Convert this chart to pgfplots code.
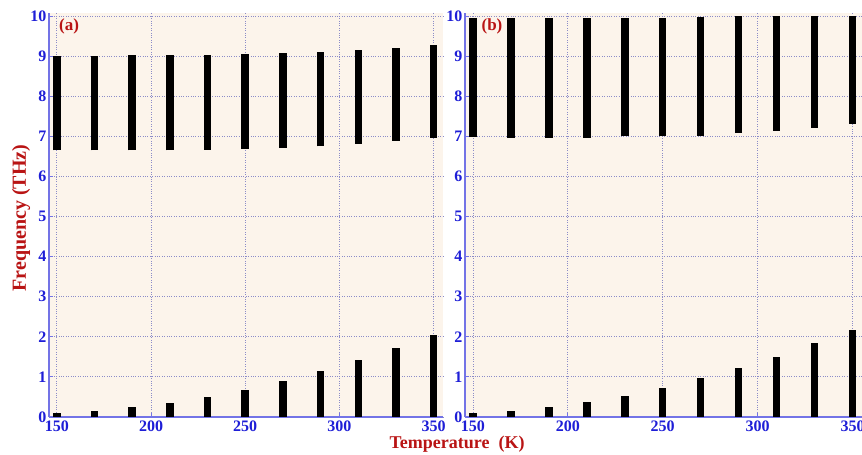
\documentclass[border=0pt]{standalone}
\usepackage{pgfplots}
\pgfplotsset{compat=1.18}
\usepackage{pgfplotstable}
\usepackage{fontspec}
\setmainfont{Liberation Serif}
\definecolor{bg}{RGB}{252,244,235}
\definecolor{tickblue}{RGB}{30,30,215}
\definecolor{axblue}{RGB}{115,115,230}
\definecolor{lblred}{RGB}{185,20,20}
\definecolor{gridc}{RGB}{140,140,200}

\pgfplotstableread{
T lo hi
150 6.65 9.01
170 6.65 9.01
190 6.65 9.04
210 6.65 9.03
230 6.67 9.03
250 6.68 9.05
270 6.71 9.07
290 6.75 9.10
310 6.82 9.14
330 6.89 9.20
350 6.96 9.28
}\aTop
\pgfplotstableread{
T lo hi
150 0 0.09
170 0 0.16
190 0 0.24
210 0 0.35
230 0 0.49
250 0 0.67
270 0 0.91
290 0 1.15
310 0 1.43
330 0 1.73
350 0 2.04
}\aBot
\pgfplotstableread{
T lo hi
150 6.98 9.94
170 6.97 9.94
190 6.97 9.94
210 6.97 9.94
230 7.00 9.96
250 7.00 9.96
270 7.02 9.98
290 7.08 10.00
310 7.14 10.00
330 7.21 10.00
350 7.31 10.00
}\bTop
\pgfplotstableread{
T lo hi
150 0 0.09
170 0 0.16
190 0 0.26
210 0 0.38
230 0 0.53
250 0 0.72
270 0 0.98
290 0 1.23
310 0 1.50
330 0 1.85
350 0 2.18
}\bBot

\pgfplotsset{panel/.style={
  scale only axis, height=404.2pt,
  xmin=145.8, xmax=355, ymin=0, ymax=10.08,
  axis x line*=bottom, axis y line*=left,
  axis line style={axblue, line width=1.3pt, -},
  axis background/.style={fill=bg},
  xtick={150,200,250,300,350}, ytick={0,1,...,10},
  xmajorgrids, ymajorgrids,
  grid style={gridc, dotted, line width=0.9pt},
  tick style={axblue, line width=1pt}, major tick length=4pt, tick align=inside,
  ticklabel style={font=\fontsize{16}{16}\selectfont\bfseries, text=tickblue},
  /pgf/number format/assume math mode=true,
  /pgf/number format/1000 sep={},
  yticklabel style={xshift=1pt},
  clip=false,
  },
  bars/.style={draw=none, mark=none,
    error bars/.cd, y dir=plus, y explicit, error mark=none,
    error bar style={draw=black, line width=7.5pt, line cap=butt}},
}

\begin{document}
\begin{tikzpicture}
\path[use as bounding box, fill=white] (0,0) rectangle (862pt,455pt);
\begin{axis}[panel, at={(49pt,38pt)}, anchor=south west, width=394pt]
\addplot[bars] table[x=T, y=lo, y error expr=\thisrow{hi}-\thisrow{lo}] {\aTop};
\addplot[bars] table[x=T, y=lo, y error expr=\thisrow{hi}-\thisrow{lo}] {\aBot};
\end{axis}
\begin{axis}[panel, at={(465pt,38pt)}, anchor=south west, width=397pt]
\addplot[bars] table[x=T, y=lo, y error expr=\thisrow{hi}-\thisrow{lo}] {\bTop};
\addplot[bars] table[x=T, y=lo, y error expr=\thisrow{hi}-\thisrow{lo}] {\bBot};
\end{axis}
\node[rotate=90, text=lblred, font=\fontsize{20}{20}\selectfont\bfseries] at (21pt,237pt) {Frequency (THz)};
\node[text=lblred, font=\fontsize{18}{18}\selectfont\bfseries] at (457pt,11pt) {Temperature\ \ (K)};
\node[text=lblred, font=\fontsize{17}{17}\selectfont\bfseries] at (69pt,429pt) {(a)};
\node[text=lblred, font=\fontsize{17}{17}\selectfont\bfseries] at (492pt,429pt) {(b)};
\end{tikzpicture}
\end{document}
